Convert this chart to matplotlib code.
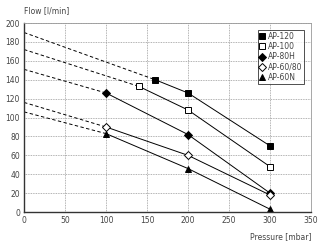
import matplotlib

matplotlib.use("Agg")
import matplotlib.pyplot as plt

# measured points (pressure mbar, flow l/min)
models = ["AP-120", "AP-100", "AP-80H", "AP-60/80", "AP-60N"]
pressure = [
    [160, 200, 300],
    [140, 200, 300],
    [100, 200, 300],
    [100, 200, 300],
    [100, 200, 300],
]
flow = [
    [140, 126, 70],
    [133, 108, 48],
    [126, 82, 20],
    [90, 60, 18],
    [83, 46, 3],
]
# dashed extrapolation back to 0 mbar
flow_at_zero = [190, 172, 151, 116, 106]

markers = ["s", "s", "D", "D", "^"]
faces = ["black", "white", "black", "white", "black"]

plt.rcParams["font.family"] = "DejaVu Sans"
txt = "#444444"

fig = plt.figure(figsize=(3.25, 2.48), dpi=100)
ax = fig.add_axes([0.074, 0.145, 0.883, 0.762])

for name, xs, ys, y0, m, fc in zip(models, pressure, flow, flow_at_zero, markers, faces):
    ax.plot([0, xs[0]], [y0, ys[0]], ls=(0, (3.5, 2.5)), color="black", lw=0.7)
    ax.plot(xs, ys, color="black", lw=0.7, marker=m, mfc=fc, mec="black",
            ms=4 if m != "^" else 4.5, mew=0.7, label=name)

ax.set_xlim(0, 350)
ax.set_ylim(0, 200)
ax.set_xticks(range(0, 351, 50))
ax.set_yticks(range(0, 201, 20))
ax.grid(True, ls=(0, (1, 1)), color="#999999", lw=0.6)
ax.tick_params(labelsize=5.5, colors=txt, length=0, pad=3)
for s in ["top", "right"]:
    ax.spines[s].set_color("#999999")
    ax.spines[s].set_linewidth(0.6)
for s in ["left", "bottom"]:
    ax.spines[s].set_color("#333333")
    ax.spines[s].set_linewidth(1.0)

ax.text(0.0, 1.04, "Flow [l/min]", transform=ax.transAxes, fontsize=5.5,
        color=txt, ha="left", va="bottom")
ax.text(1.0, -0.105, "Pressure [mbar]", transform=ax.transAxes, fontsize=5.5,
        color=txt, ha="right", va="top")

leg = ax.legend(loc="upper right", fontsize=5.5, frameon=True, fancybox=False,
                handlelength=0.6, handletextpad=0.4, borderpad=0.3,
                labelspacing=0.15, bbox_to_anchor=(0.99, 0.985))
leg.get_frame().set_edgecolor("black")
leg.get_frame().set_linewidth(0.6)
for t in leg.get_texts():
    t.set_color(txt)
for h in leg.legend_handles:
    h.set_linestyle("none")

fig.savefig("out.png", dpi=100)
